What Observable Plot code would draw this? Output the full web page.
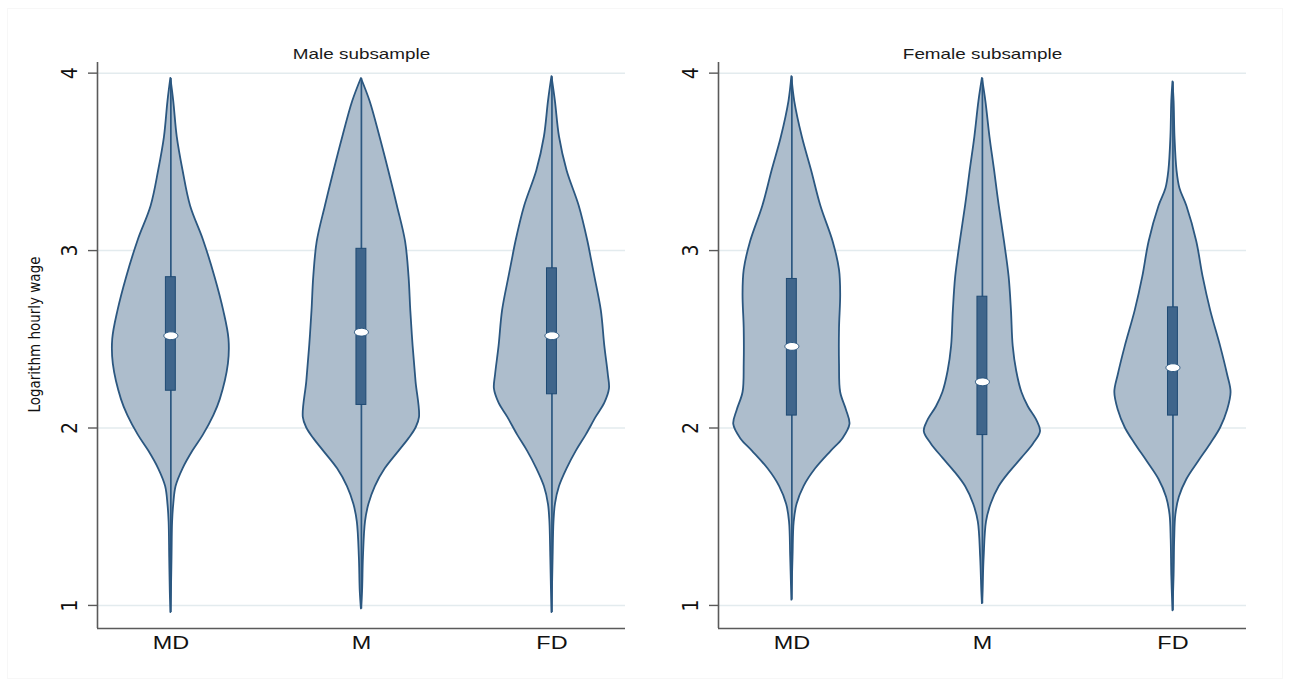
<!DOCTYPE html>
<html>
<head>
<meta charset="utf-8">
<script src="https://cdn.jsdelivr.net/npm/d3@7"></script>
<script src="https://cdn.jsdelivr.net/npm/@observablehq/plot@0.6"></script>
<style>
  html, body { margin: 0; padding: 0; background: #fff; }
  #wrap { position: relative; width: 1290px; height: 688px; display: flex; overflow: hidden; }
  #border { position: absolute; left: 7px; top: 8px; width: 1276px; height: 671px; border: 1px solid #f7f7f7; box-sizing: border-box; pointer-events: none; }
</style>
</head>
<body>
<div id="wrap"><div id="border"></div></div>
<script>
// ---- data ----
const categories = ["MD", "M", "FD"];
const panelTitles = ["Male subsample", "Female subsample"];
const yTicks = [1, 2, 3, 4];
const yTitle = "Logarithm hourly wage";

// density profiles: [log hourly wage, relative density]
const maleMD = [[0.96,0],[1.08,0.01],[1.27,0.02],[1.47,0.03],[1.57,0.05],[1.67,0.09],[1.77,0.21],[1.87,0.38],[1.96,0.56],[2.07,0.74],[2.16,0.85],[2.36,0.99],[2.50,1.0],[2.66,0.91],[2.85,0.76],[3.06,0.56],[3.25,0.34],[3.45,0.21],[3.64,0.11],[3.84,0.05],[3.97,0]];
const maleM = [[0.98,0],[1.08,0.02],[1.27,0.035],[1.47,0.07],[1.57,0.13],[1.67,0.24],[1.77,0.41],[1.87,0.65],[1.94,0.82],[2.00,0.94],[2.06,1.0],[2.26,0.94],[2.46,0.89],[2.66,0.85],[2.85,0.82],[3.05,0.76],[3.25,0.62],[3.45,0.47],[3.64,0.32],[3.84,0.15],[3.97,0]];
const maleFD = [[0.96,0],[1.11,0.01],[1.27,0.02],[1.47,0.035],[1.57,0.06],[1.67,0.13],[1.77,0.26],[1.87,0.42],[1.96,0.59],[2.06,0.76],[2.14,0.91],[2.22,0.99],[2.30,0.97],[2.46,0.91],[2.66,0.85],[2.85,0.74],[2.95,0.68],[3.05,0.62],[3.25,0.47],[3.45,0.26],[3.64,0.13],[3.84,0.06],[3.98,0]];
const femaleMD = [[1.03,0],[1.27,0.02],[1.47,0.04],[1.57,0.09],[1.67,0.21],[1.77,0.41],[1.87,0.68],[1.94,0.88],[2.02,1.0],[2.10,0.94],[2.20,0.84],[2.36,0.82],[2.56,0.82],[2.75,0.84],[2.89,0.82],[3.05,0.71],[3.25,0.50],[3.45,0.34],[3.64,0.18],[3.84,0.05],[3.98,0]];
const femaleM = [[1.01,0],[1.08,0.01],[1.27,0.03],[1.47,0.07],[1.57,0.15],[1.67,0.29],[1.75,0.47],[1.83,0.68],[1.91,0.88],[1.98,1.0],[2.04,0.94],[2.12,0.79],[2.20,0.68],[2.32,0.59],[2.46,0.53],[2.66,0.50],[2.85,0.46],[3.05,0.38],[3.25,0.29],[3.45,0.21],[3.64,0.13],[3.84,0.06],[3.97,0]];
const femaleFD = [[0.97,0],[1.17,0.02],[1.37,0.03],[1.51,0.05],[1.61,0.11],[1.71,0.24],[1.81,0.44],[1.91,0.65],[2.00,0.82],[2.10,0.94],[2.20,1.0],[2.30,0.94],[2.46,0.82],[2.66,0.65],[2.85,0.52],[3.05,0.41],[3.25,0.24],[3.35,0.12],[3.45,0.07],[3.64,0.035],[3.84,0.02],[3.95,0]];

// box statistics per category (MD, M, FD)
const maleQ1 = [2.21, 2.13, 2.19];
const maleMedian = [2.52, 2.54, 2.52];
const maleQ3 = [2.85, 3.01, 2.90];
const femaleQ1 = [2.07, 1.96, 2.07];
const femaleMedian = [2.46, 2.26, 2.34];
const femaleQ3 = [2.84, 2.74, 2.68];

// ---- styling ----
const fillViolin = "#adbdcc";
const strokeViolin = "#2b5780";
const boxFill = "#3f658b";
const boxStroke = "#1f4a73";
const axisColor = "#5a5a5a";
const gridColor = "#e3ebee";
const narrowFont = "'Liberation Sans Narrow', 'DejaVu Sans Condensed', 'Arial Narrow', sans-serif";
const xDomain = [-0.385, 2.386];
const yDomain = [0.87, 4.06];
const widthScale = 0.305;
const boxHalf = 0.026;

const ellipse = {
  draw(ctx) {
    const rx = 7, ry = 3.9, k = 0.5523;
    ctx.moveTo(rx, 0);
    ctx.bezierCurveTo(rx, ry * k, rx * k, ry, 0, ry);
    ctx.bezierCurveTo(-rx * k, ry, -rx, ry * k, -rx, 0);
    ctx.bezierCurveTo(-rx, -ry * k, -rx * k, -ry, 0, -ry);
    ctx.bezierCurveTo(rx * k, -ry, rx, -ry * k, rx, 0);
    ctx.closePath();
  }
};

function panel(title, profiles, q1, med, q3, withTitle, mLeft, mRight) {
  const rows = profiles.flatMap((p, i) => p.map(([v, d]) => ({cat: categories[i], i, v, d})));
  const stats = categories.map((c, i) => ({
    cat: c, i, q1: q1[i], med: med[i], q3: q3[i],
    lo: profiles[i][0][0], hi: profiles[i][profiles[i].length - 1][0]
  }));
  const marks = [
    Plot.ruleY(yTicks, {stroke: gridColor, strokeWidth: 1.5}),
    Plot.areaX(rows, {
      y: "v", x1: d => d.i - d.d * widthScale, x2: d => d.i + d.d * widthScale, z: "cat",
      fill: fillViolin, stroke: strokeViolin, strokeWidth: 1.8, curve: "catmull-rom"
    }),
    Plot.ruleX(stats, {x: "i", y1: "lo", y2: "hi", stroke: strokeViolin, strokeWidth: 1.7}),
    Plot.rect(stats, {x1: d => d.i - boxHalf, x2: d => d.i + boxHalf, y1: "q1", y2: "q3", fill: boxFill, stroke: boxStroke, strokeWidth: 1}),
    Plot.dot(stats, {x: "i", y: "med", symbol: ellipse, fill: "white", stroke: strokeViolin, strokeWidth: 1}),
    Plot.ruleX([xDomain[0]], {stroke: axisColor, strokeWidth: 1.6}),
    Plot.ruleY([yDomain[0]], {stroke: axisColor, strokeWidth: 1.6}),
    Plot.axisY({ticks: yTicks, tickSize: 9, tickFormat: () => "", stroke: axisColor, strokeWidth: 1.4, label: null}),
    Plot.text(yTicks, {y: d => d, text: d => String(d), frameAnchor: "left", textAnchor: "middle", dx: -27, rotate: -90, fontSize: 21, fontFamily: narrowFont, fill: "#111"}),
    Plot.axisX({ticks: [0, 1, 2], tickFormat: i => categories[i], tickSize: 0, tickPadding: 8, fontSize: 18, fill: "#111", label: null}),
    Plot.text([title], {text: d => d, frameAnchor: "top", dy: -14, fontSize: 14.5, fill: "#1a1a1a"})
  ];
  if (withTitle) {
    marks.push(Plot.text([yTitle], {text: d => d, frameAnchor: "left", textAnchor: "middle", dx: -62, dy: -11, rotate: -90, fontSize: 15, fontFamily: narrowFont, fill: "#111"}));
  }
  return Plot.plot({
    width: 645, height: 688,
    marginLeft: mLeft, marginRight: mRight, marginTop: 62, marginBottom: 60,
    x: {domain: xDomain, axis: null},
    y: {domain: yDomain, axis: null},
    style: {fontFamily: "'Liberation Sans', Arial, sans-serif", background: "transparent", overflow: "visible"},
    marks
  });
}

const wrap = document.getElementById("wrap");
const left = panel(panelTitles[0], [maleMD, maleM, maleFD], maleQ1, maleMedian, maleQ3, true, 97, 20);
const right = panel(panelTitles[1], [femaleMD, femaleM, femaleFD], femaleQ1, femaleMedian, femaleQ3, false, 73, 44);
wrap.appendChild(left);
wrap.appendChild(right);

// reference image is stretched horizontally; widen horizontal text accordingly
for (const svg of [left, right]) {
  for (const t of svg.querySelectorAll("text")) {
    const tr = (t.getAttribute("transform") || "");
    if (tr.includes("rotate")) continue;
    if (!t.textContent) continue;
    const len = t.getComputedTextLength();
    if (len > 0) {
      t.setAttribute("textLength", (len * 1.3).toFixed(1));
      t.setAttribute("lengthAdjust", "spacingAndGlyphs");
    }
  }
}
</script>
</body>
</html>
